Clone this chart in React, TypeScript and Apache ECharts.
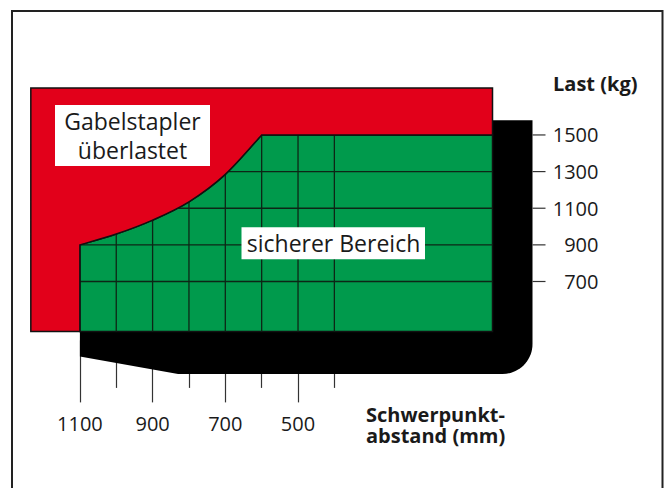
import React, { useEffect, useRef } from "react";
import * as echarts from "echarts";

// Axis ticks / labels
const xMajorTicks = [1100, 900, 700, 500];
const xMinorTicks = [1000, 800, 600, 400];
const yTicks = [700, 900, 1100, 1300, 1500];

// Load limit curve (Schwerpunktabstand mm -> Last kg)
const limitX = [1100, 1000, 900, 800, 700, 600];
const limitY = [900, 959, 1035, 1135, 1285, 1500];

// Safe zone extents
const safeX = [1100, -35];
const safeY = [427, 1500];

// Overload zone extents
const overX = [1235, -35];
const overY = [427, 1757];

// Shadow (truck body) extents
const shadowX = [1100, 830, -145];
const shadowY = [290, 195, 1580];

// Grid lines inside safe zone
const gridX = [1000, 900, 800, 700, 600, 500, 400];
const gridY = [1300, 1100, 900, 700];

// Axis ranges
const xRange = [-145, 1240];
const yRange = [40, 1800];

const FONT = "'Open Sans', 'Noto Sans', sans-serif";
const RED = "#E2001A";
const GREEN = "#009A4C";
const TEXT = "#1a1a1a";
const TICK = "#333";

type P = number[];
function curveThrough(pts: P[]): string {
  let d = "";
  for (let i = 0; i < pts.length - 1; i++) {
    const p0 = pts[i - 1] || pts[i];
    const p1 = pts[i];
    const p2 = pts[i + 1];
    const p3 = pts[i + 2] || p2;
    const c1 = [p1[0] + (p2[0] - p0[0]) / 6, p1[1] + (p2[1] - p0[1]) / 6];
    const c2 = [p2[0] - (p3[0] - p1[0]) / 6, p2[1] - (p3[1] - p1[1]) / 6];
    d += ` C ${c1[0]} ${c1[1]} ${c2[0]} ${c2[1]} ${p2[0]} ${p2[1]}`;
  }
  return d;
}

function txt(text: string, x: number, y: number, size: number, bold: boolean, align: string) {
  return {
    type: "text",
    silent: true,
    z: 101,
    x,
    y,
    style: {
      text,
      fontSize: size,
      fontWeight: bold ? "bold" : "normal",
      fontFamily: FONT,
      align,
      verticalAlign: "middle",
      fill: TEXT,
    },
  };
}

export default function App() {
  const ref = useRef<HTMLDivElement>(null);
  useEffect(() => {
    if (!ref.current) return;
    const chart = echarts.init(ref.current, null, { renderer: "svg" });

    const shadowSeries = {
      type: "custom",
      coordinateSystem: "cartesian2d",
      silent: true,
      clip: false,
      z: 1,
      data: [[shadowX[2], shadowY[1]]],
      renderItem: (_p: any, api: any) => {
        const c = (x: number, y: number) => api.coord([x, y]);
        const tr = c(shadowX[2], shadowY[2]);
        const br = c(shadowX[2], shadowY[1]);
        const bevel = c(shadowX[1], shadowY[1]);
        const left = c(shadowX[0], shadowY[0]);
        const tl = c(shadowX[0], shadowY[2]);
        const r = 30;
        const k = 0.552 * r;
        const d =
          `M ${tl[0]} ${tl[1]} L ${tr[0]} ${tr[1]} L ${br[0]} ${br[1] - r}` +
          ` C ${br[0]} ${br[1] - r + k} ${br[0] - r + k} ${br[1]} ${br[0] - r} ${br[1]}` +
          ` L ${bevel[0]} ${bevel[1]} L ${left[0]} ${left[1]} Z`;
        return { type: "path", shape: { pathData: d }, style: { fill: "#000" } };
      },
    };

    const safeSeries = {
      type: "custom",
      coordinateSystem: "cartesian2d",
      silent: true,
      clip: false,
      z: 2,
      data: [[safeX[1], safeY[0]]],
      renderItem: (_p: any, api: any) => {
        const c = (x: number, y: number) => api.coord([x, y]);
        const pts = limitX.map((x, i) => c(x, limitY[i]));
        const bl = c(safeX[0], safeY[0]);
        const tr = c(safeX[1], safeY[1]);
        const br = c(safeX[1], safeY[0]);
        const d =
          `M ${bl[0]} ${bl[1]} L ${pts[0][0]} ${pts[0][1]}` +
          curveThrough(pts) +
          ` L ${tr[0]} ${tr[1]} L ${br[0]} ${br[1]} Z`;
        return {
          type: "path",
          shape: { pathData: d },
          style: { fill: GREEN, stroke: "#111", lineWidth: 1.5 },
        };
      },
    };

    const gridSeries = {
      type: "custom",
      coordinateSystem: "cartesian2d",
      silent: true,
      clip: false,
      z: 3,
      data: [[safeX[1], safeY[0]]],
      renderItem: (_p: any, api: any) => {
        const c = (x: number, y: number) => api.coord([x, y]);
        const style = { stroke: "#0d2616", lineWidth: 1.3 };
        const children: any[] = [];
        gridY.forEach((y) => {
          const a = c(safeX[0], y);
          const b = c(safeX[1], y);
          children.push({ type: "line", shape: { x1: a[0], y1: a[1], x2: b[0], y2: b[1] }, style });
        });
        gridX.forEach((x) => {
          const a = c(x, safeY[0]);
          const b = c(x, safeY[1]);
          children.push({ type: "line", shape: { x1: a[0], y1: a[1], x2: b[0], y2: b[1] }, style });
        });
        return { type: "group", children };
      },
    };

    const overSeries = {
      type: "custom",
      coordinateSystem: "cartesian2d",
      silent: true,
      clip: false,
      z: 4,
      data: [[overX[0], overY[0]]],
      renderItem: (_p: any, api: any) => {
        const c = (x: number, y: number) => api.coord([x, y]);
        const pts = limitX.map((x, i) => c(x, limitY[i])).reverse();
        const bl = c(overX[0], overY[0]);
        const tl = c(overX[0], overY[1]);
        const tr = c(overX[1], overY[1]);
        const rs = c(overX[1], safeY[1]);
        const inner = c(safeX[0], safeY[0]);
        const d =
          `M ${bl[0]} ${bl[1]} L ${tl[0]} ${tl[1]} L ${tr[0]} ${tr[1]} L ${rs[0]} ${rs[1]}` +
          ` L ${pts[0][0]} ${pts[0][1]}` +
          curveThrough(pts) +
          ` L ${inner[0]} ${inner[1]} Z`;
        return {
          type: "path",
          shape: { pathData: d },
          style: { fill: RED, stroke: "#111", lineWidth: 1.5, lineJoin: "miter" },
        };
      },
    };

    // y-axis tick marks on the right edge of the plot
    const yTickSeries = {
      type: "custom",
      coordinateSystem: "cartesian2d",
      silent: true,
      clip: false,
      z: 5,
      data: yTicks.map((y) => [xRange[0], y]),
      renderItem: (_p: any, api: any) => {
        const a = api.coord([api.value(0), api.value(1)]);
        return {
          type: "line",
          shape: { x1: a[0], y1: a[1], x2: a[0] + 13, y2: a[1] },
          style: { stroke: TICK, lineWidth: 1.2 },
        };
      },
    };

    const fmt = (v: number) => String(v);

    const option: any = {
      animation: false,
      backgroundColor: "#fff",
      grid: { left: 29, right: 131.5, top: 80, bottom: 85.6, containLabel: false },
      xAxis: [
        {
          type: "value",
          inverse: true,
          min: xRange[0],
          max: xRange[1],
          position: "bottom",
          axisLine: { show: false },
          splitLine: { show: false },
          axisTick: {
            show: true,
            inside: true,
            length: 62,
            customValues: xMajorTicks,
            lineStyle: { color: TICK, width: 1.2 },
          },
          axisLabel: {
            show: true,
            customValues: xMajorTicks,
            formatter: fmt,
            margin: 11,
            fontSize: 20,
            fontFamily: FONT,
            color: TEXT,
          },
        },
        {
          type: "value",
          inverse: true,
          min: xRange[0],
          max: xRange[1],
          position: "bottom",
          offset: -14.5,
          axisLine: { show: false },
          splitLine: { show: false },
          axisTick: {
            show: true,
            inside: true,
            length: 50,
            customValues: xMinorTicks,
            lineStyle: { color: TICK, width: 1.2 },
          },
          axisLabel: { show: false },
        },
      ],
      yAxis: {
        type: "value",
        min: yRange[0],
        max: yRange[1],
        position: "right",
        axisLine: { show: false },
        splitLine: { show: false },
        axisTick: { show: false },
        axisLabel: {
          show: true,
          customValues: yTicks,
          formatter: fmt,
          align: "right",
          margin: 66,
          fontSize: 20,
          fontFamily: FONT,
          color: TEXT,
        },
      },
      graphic: [
        {
          type: "rect",
          silent: true,
          z: 100,
          shape: { x: 12, y: 11, width: 650.5, height: 490 },
          style: { fill: "none", stroke: "#222", lineWidth: 2 },
        },
        {
          type: "rect",
          silent: true,
          z: 100,
          shape: { x: 55, y: 105, width: 155, height: 61 },
          style: { fill: "#fff" },
        },
        txt("Gabelstapler", 132.5, 121.3, 23, false, "center"),
        txt("überlastet", 132.5, 149.7, 23, false, "center"),
        {
          type: "rect",
          silent: true,
          z: 100,
          shape: { x: 241.5, y: 227.3, width: 183.5, height: 32 },
          style: { fill: "#fff" },
        },
        txt("sicherer Bereich", 333.5, 243.3, 23, false, "center"),
        txt("Last (kg)", 553, 83, 20, true, "left"),
        txt("Schwerpunkt-", 366, 414.2, 20, true, "left"),
        txt("abstand (mm)", 366, 435.8, 20, true, "left"),
      ],
      series: [shadowSeries, safeSeries, gridSeries, overSeries, yTickSeries],
    };

    chart.setOption(option);
    return () => chart.dispose();
  }, []);

  return (
    <div
      ref={ref}
      style={{ position: "fixed", left: 0, top: 0, width: 664, height: 488, background: "#fff" }}
    />
  );
}
